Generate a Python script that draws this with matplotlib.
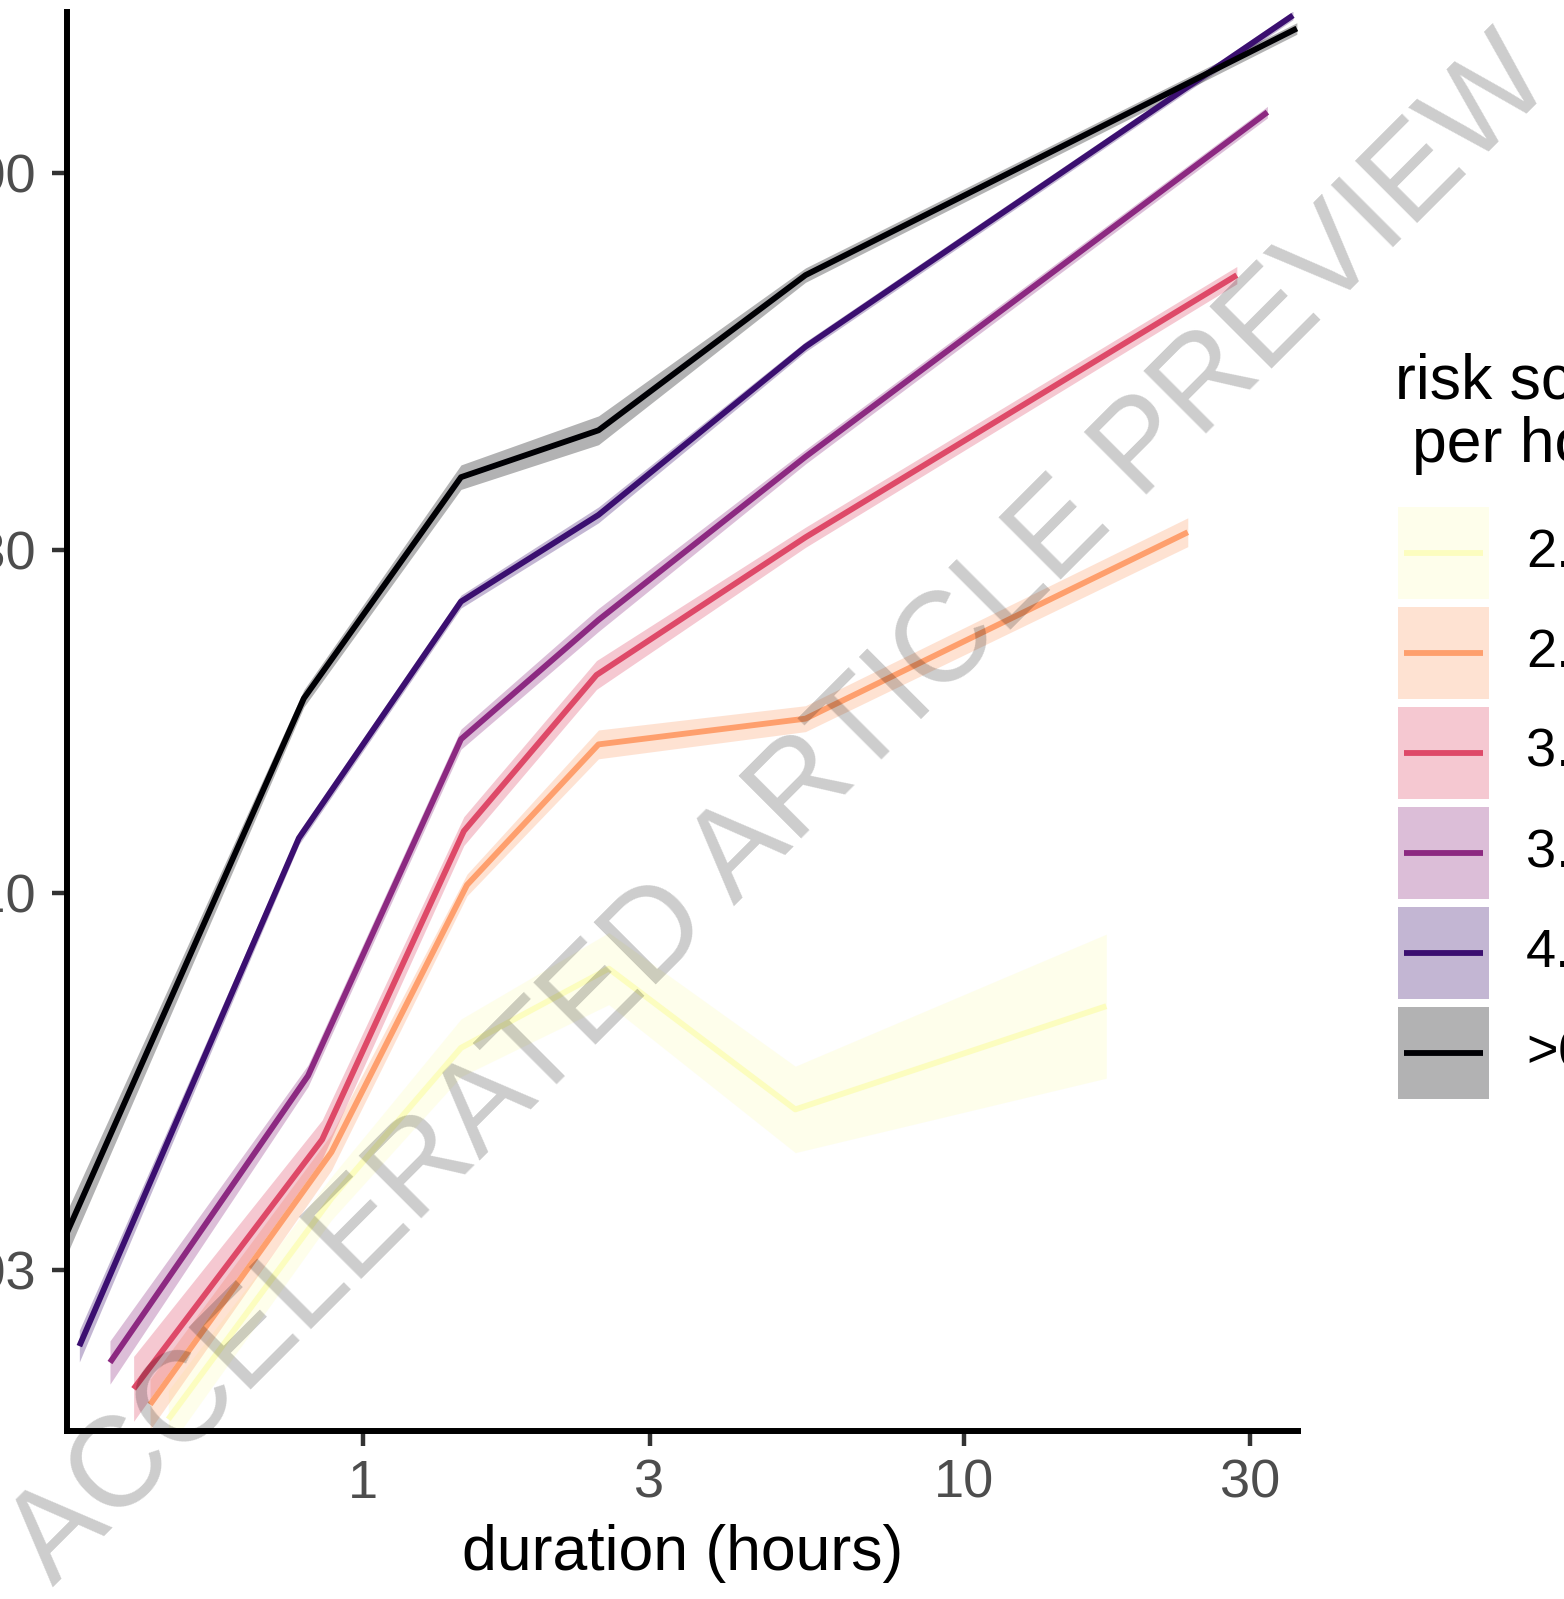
import numpy as np
import matplotlib.pyplot as plt
from matplotlib.lines import Line2D
from matplotlib.patches import Rectangle
from matplotlib.ticker import FixedLocator, FixedFormatter, NullLocator

plt.rcParams['font.family'] = ['Liberation Sans', 'DejaVu Sans']

# risk score groups (legend), magma palette
groups = ['2.0\u20132.5', '2.5\u20133.0', '3.0\u20133.5', '3.5\u20134.0', '4.0\u20136.0', '>6.0']
colors = ['#FCFDBF', '#FE9F6D', '#DE4968', '#8C2981', '#3B0F70', '#000004']

# duration (hours) per group
dur_yellow = [0.474, 0.886, 1.456, 2.566, 5.247, 17.29]
dur_orange = [0.442, 0.886, 1.490, 2.467, 5.455, 23.63]
dur_red = [0.415, 0.855, 1.472, 2.448, 5.455, 28.52]
dur_purple = [0.379, 0.810, 1.456, 2.467, 5.455, 32.07]
dur_indigo = [0.337, 0.782, 1.456, 2.467, 5.455, 35.37]
dur_black = [0.321, 0.797, 1.456, 2.467, 5.455, 35.9]

# risk per group
risk_yellow = [0.00186, 0.00377, 0.0061, 0.00786, 0.00501, 0.00697]
risk_orange = [0.00195, 0.00437, 0.01027, 0.0161, 0.01748, 0.03173]
risk_red = [0.00205, 0.00455, 0.0122, 0.0201, 0.03122, 0.0722]
risk_purple = [0.00223, 0.00558, 0.01637, 0.02397, 0.04039, 0.1216]
risk_indigo = [0.00235, 0.01193, 0.02542, 0.03354, 0.05743, 0.1657]
risk_black = [0.00337, 0.01865, 0.03784, 0.04396, 0.0722, 0.1589]

# confidence band half width (log10 units)
ci_yellow = [0.04, 0.03, 0.04, 0.05, 0.06, 0.10]
ci_orange = [0.035, 0.025, 0.015, 0.02, 0.018, 0.02]
ci_red = [0.045, 0.027, 0.02, 0.02, 0.014, 0.012]
ci_purple = [0.03, 0.015, 0.014, 0.016, 0.01, 0.008]
ci_indigo = [0.022, 0.009, 0.009, 0.011, 0.007, 0.006]
ci_black = [0.03, 0.012, 0.017, 0.02, 0.01, 0.008]

durations = [dur_yellow, dur_orange, dur_red, dur_purple, dur_indigo, dur_black]
risks = [risk_yellow, risk_orange, risk_red, risk_purple, risk_indigo, risk_black]
cis = [ci_yellow, ci_orange, ci_red, ci_purple, ci_indigo, ci_black]

x_ticks = [1, 3, 10, 30]
x_labels = ['1', '3', '10', '30']
y_ticks = [0.003, 0.01, 0.03, 0.1]
y_labels = ['0.003', '0.010', '0.030', '0.100']

W, H = 1564, 1599
fig = plt.figure(figsize=(W / 100, H / 100), dpi=100)
left, right, bottom, top = 66.5, 1298, 1431, 12
ax = fig.add_axes([left / W, 1 - bottom / H, (right - left) / W, (bottom - top) / H])

for x, y, ci, c in zip(durations, risks, cis, colors):
    x = np.array(x)
    y = np.array(y)
    f = 10 ** np.array(ci)
    ax.fill_between(x, y / f, y * f, color=c, alpha=0.3, lw=0, zorder=1)
for x, y, c in zip(durations, risks, colors):
    ax.plot(x, y, color=c, lw=4.2, solid_capstyle='butt', zorder=2, clip_on=False)

ax.set_xscale('log')
ax.set_yscale('log')
ax.set_xlim(10 ** ((left - 363) / 600.5), 10 ** ((right - 363) / 600.5))
ax.set_ylim(10 ** (-1 - (bottom - 173.3) / 720), 10 ** (-1 - (top - 173.3) / 720))

ax.xaxis.set_major_locator(FixedLocator(x_ticks))
ax.xaxis.set_major_formatter(FixedFormatter(x_labels))
ax.yaxis.set_major_locator(FixedLocator(y_ticks))
ax.yaxis.set_major_formatter(FixedFormatter(y_labels))
ax.xaxis.set_minor_locator(NullLocator())
ax.yaxis.set_minor_locator(NullLocator())

for s in ['top', 'right']:
    ax.spines[s].set_visible(False)
for s in ['left', 'bottom']:
    ax.spines[s].set_linewidth(4.3)
    ax.spines[s].set_color('black')
    ax.spines[s].set_capstyle('projecting')
ax.tick_params(length=10.8, width=3.2, color='#333333', labelcolor='#4d4d4d', labelsize=39)
ax.tick_params(axis='x', pad=9)
ax.tick_params(axis='y', pad=11)
ax.set_xlabel('duration (hours)', fontsize=45, labelpad=11)

# legend: title, then key boxes (band + line) with labels
fig.text(1395 / W, 1 - 462 / H, 'risk score\nper hour', fontsize=45, ha='left', va='baseline',
         multialignment='center', linespacing=1.1)
key_left, key_w, key_h, key_top, key_step = 1398, 91, 92, 507, 100
for i, (g, c) in enumerate(zip(groups, colors)):
    y0 = key_top + i * key_step
    fig.add_artist(Rectangle((key_left / W, 1 - (y0 + key_h) / H), key_w / W, key_h / H,
                             transform=fig.transFigure, facecolor=c, alpha=0.3, lw=0))
    yc = 1 - (y0 + key_h / 2) / H
    fig.add_artist(Line2D([(key_left + 6) / W, (key_left + key_w - 6) / W], [yc, yc],
                          transform=fig.transFigure, color=c, lw=4.2, solid_capstyle='butt'))
    fig.text(1526 / W, yc, g, fontsize=39, ha='left', va='center')

fig.text(53 / W, 1 - 1587 / H, 'ACCELERATED ARTICLE PREVIEW', fontsize=92, rotation=45,
         rotation_mode='anchor', ha='left', va='baseline', color='black', alpha=0.2, zorder=10)

fig.savefig('out.png', dpi=100)
